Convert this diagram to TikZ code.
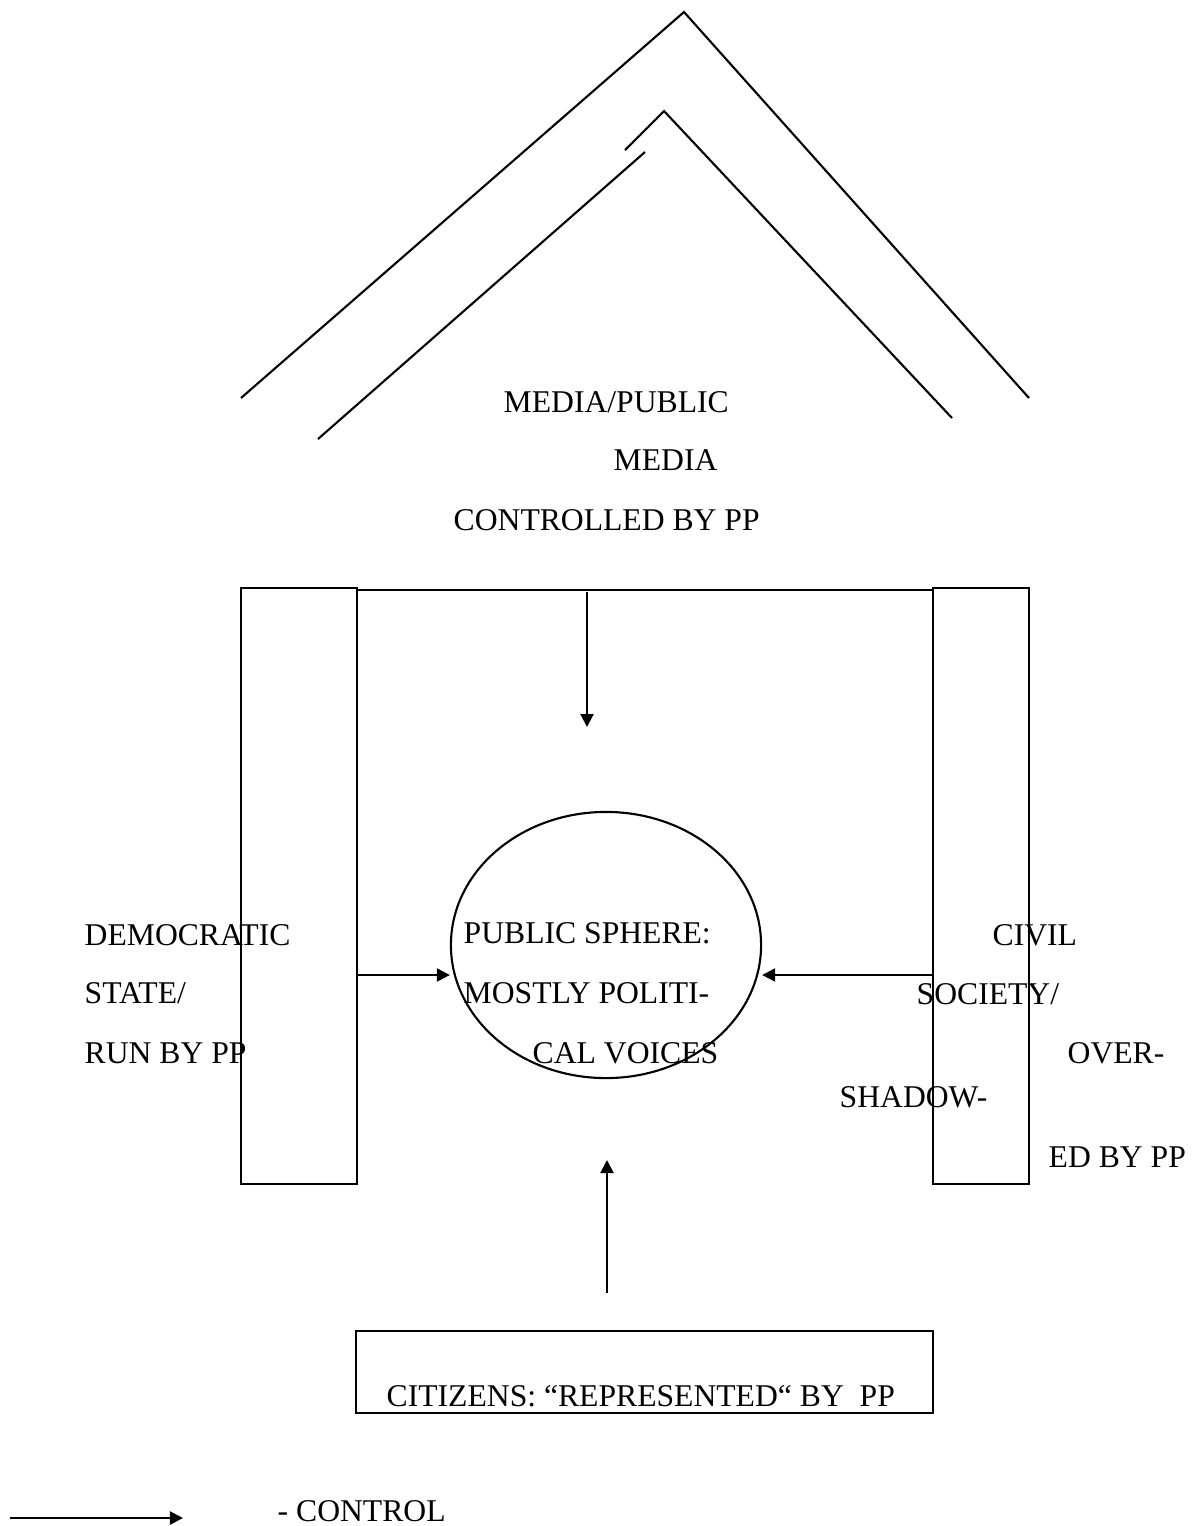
\documentclass[tikz,border=0pt]{standalone}
\usepackage{fontspec}
\setmainfont{Liberation Serif}
\usepackage{tikz}
\usetikzlibrary{arrows.meta,positioning,shapes.geometric}
\tikzset{
  pillar/.style={draw=black,line width=0.6pt,rectangle,inner sep=0pt,
    minimum height=5.96cm},
  sphere/.style={draw=black,line width=0.6pt,ellipse,inner sep=0pt,
    minimum width=3.10cm,minimum height=2.66cm},
  citizenbox/.style={draw=black,line width=0.6pt,rectangle,inner sep=0pt,
    minimum width=5.77cm,minimum height=0.82cm},
  roofline/.style={draw=black,line width=0.6pt},
  ctrl/.style={draw=black,line width=0.6pt,-{Triangle[length=1.3mm,width=1.3mm]}},
  lbl/.style={font=\fontsize{9}{11}\selectfont,inner sep=0pt,anchor=base west}
}
\begin{document}
\begin{tikzpicture}[x=0.01cm,y=-0.01cm]
  \useasboundingbox (0,0) rectangle (1195,1526);

  % roof
  \draw[roofline] (241,398) -- (684,12) -- (1029,398);
  \draw[roofline] (625,150) -- (664,111) -- (952,418);
  \draw[roofline] (645,152) -- (318,439);

  \node[lbl] (media1) at (503,412) {MEDIA/PUBLIC};
  \node[lbl] (media2) at (613,470) {MEDIA};
  \node[lbl] (media3) at (453,530) {CONTROLLED BY PP};

  % pillars and sphere
  \node[pillar,minimum width=1.16cm] (statepillar) at (299,886) {};
  \node[pillar,minimum width=0.96cm] (civilpillar) at (981,886) {};
  \node[sphere] (sphere) at (606,945) {};
  \draw[roofline] (statepillar.north east |- 0,590) -- (civilpillar.north west |- 0,590);

  \node[lbl] (state1) at (84,945) {DEMOCRATIC};
  \node[lbl] (state2) at (84,1003) {STATE/};
  \node[lbl] (state3) at (84,1063) {RUN BY PP};

  \node[lbl] (sphere1) at (463,943) {PUBLIC SPHERE:};
  \node[lbl] (sphere2) at (463,1003) {MOSTLY POLITI-};
  \node[lbl] (sphere3) at (532,1063) {CAL VOICES};

  \node[lbl] (civil1) at (992,945) {CIVIL};
  \node[lbl] (civil2) at (916,1004) {SOCIETY/};
  \node[lbl] (civil3) at (1067,1063) {OVER-};
  \node[lbl] (civil4) at (839,1107) {SHADOW-};
  \node[lbl] (civil5) at (1048,1167) {ED BY PP};

  % citizens
  \node[citizenbox] (citizens) at (644.5,1372) {};
  \node[lbl] (citizenstext) at (386,1406) {CITIZENS: “REPRESENTED“ BY\ \ PP};

  % control arrows
  \coordinate (mediabeam) at (587,592);
  \coordinate (mediatip) at (587,727);
  \coordinate (citizensfoot) at (607,1293);
  \coordinate (citizenstip) at (607,1160);
  \draw[ctrl] (mediabeam) -- (mediatip);
  \draw[ctrl] (statepillar.east |- 0,975) -- (sphere.west |- 0,975);
  \draw[ctrl] (civilpillar.west |- 0,975) -- (sphere.east |- 0,975);
  \draw[ctrl] (citizensfoot) -- (citizenstip);

  % key
  \coordinate (keystart) at (10,1518);
  \coordinate (keyend) at (183,1518);
  \draw[ctrl] (keystart) -- (keyend);
  \node[lbl] (keytext) at (277,1521) {- CONTROL};
\end{tikzpicture}
\end{document}
